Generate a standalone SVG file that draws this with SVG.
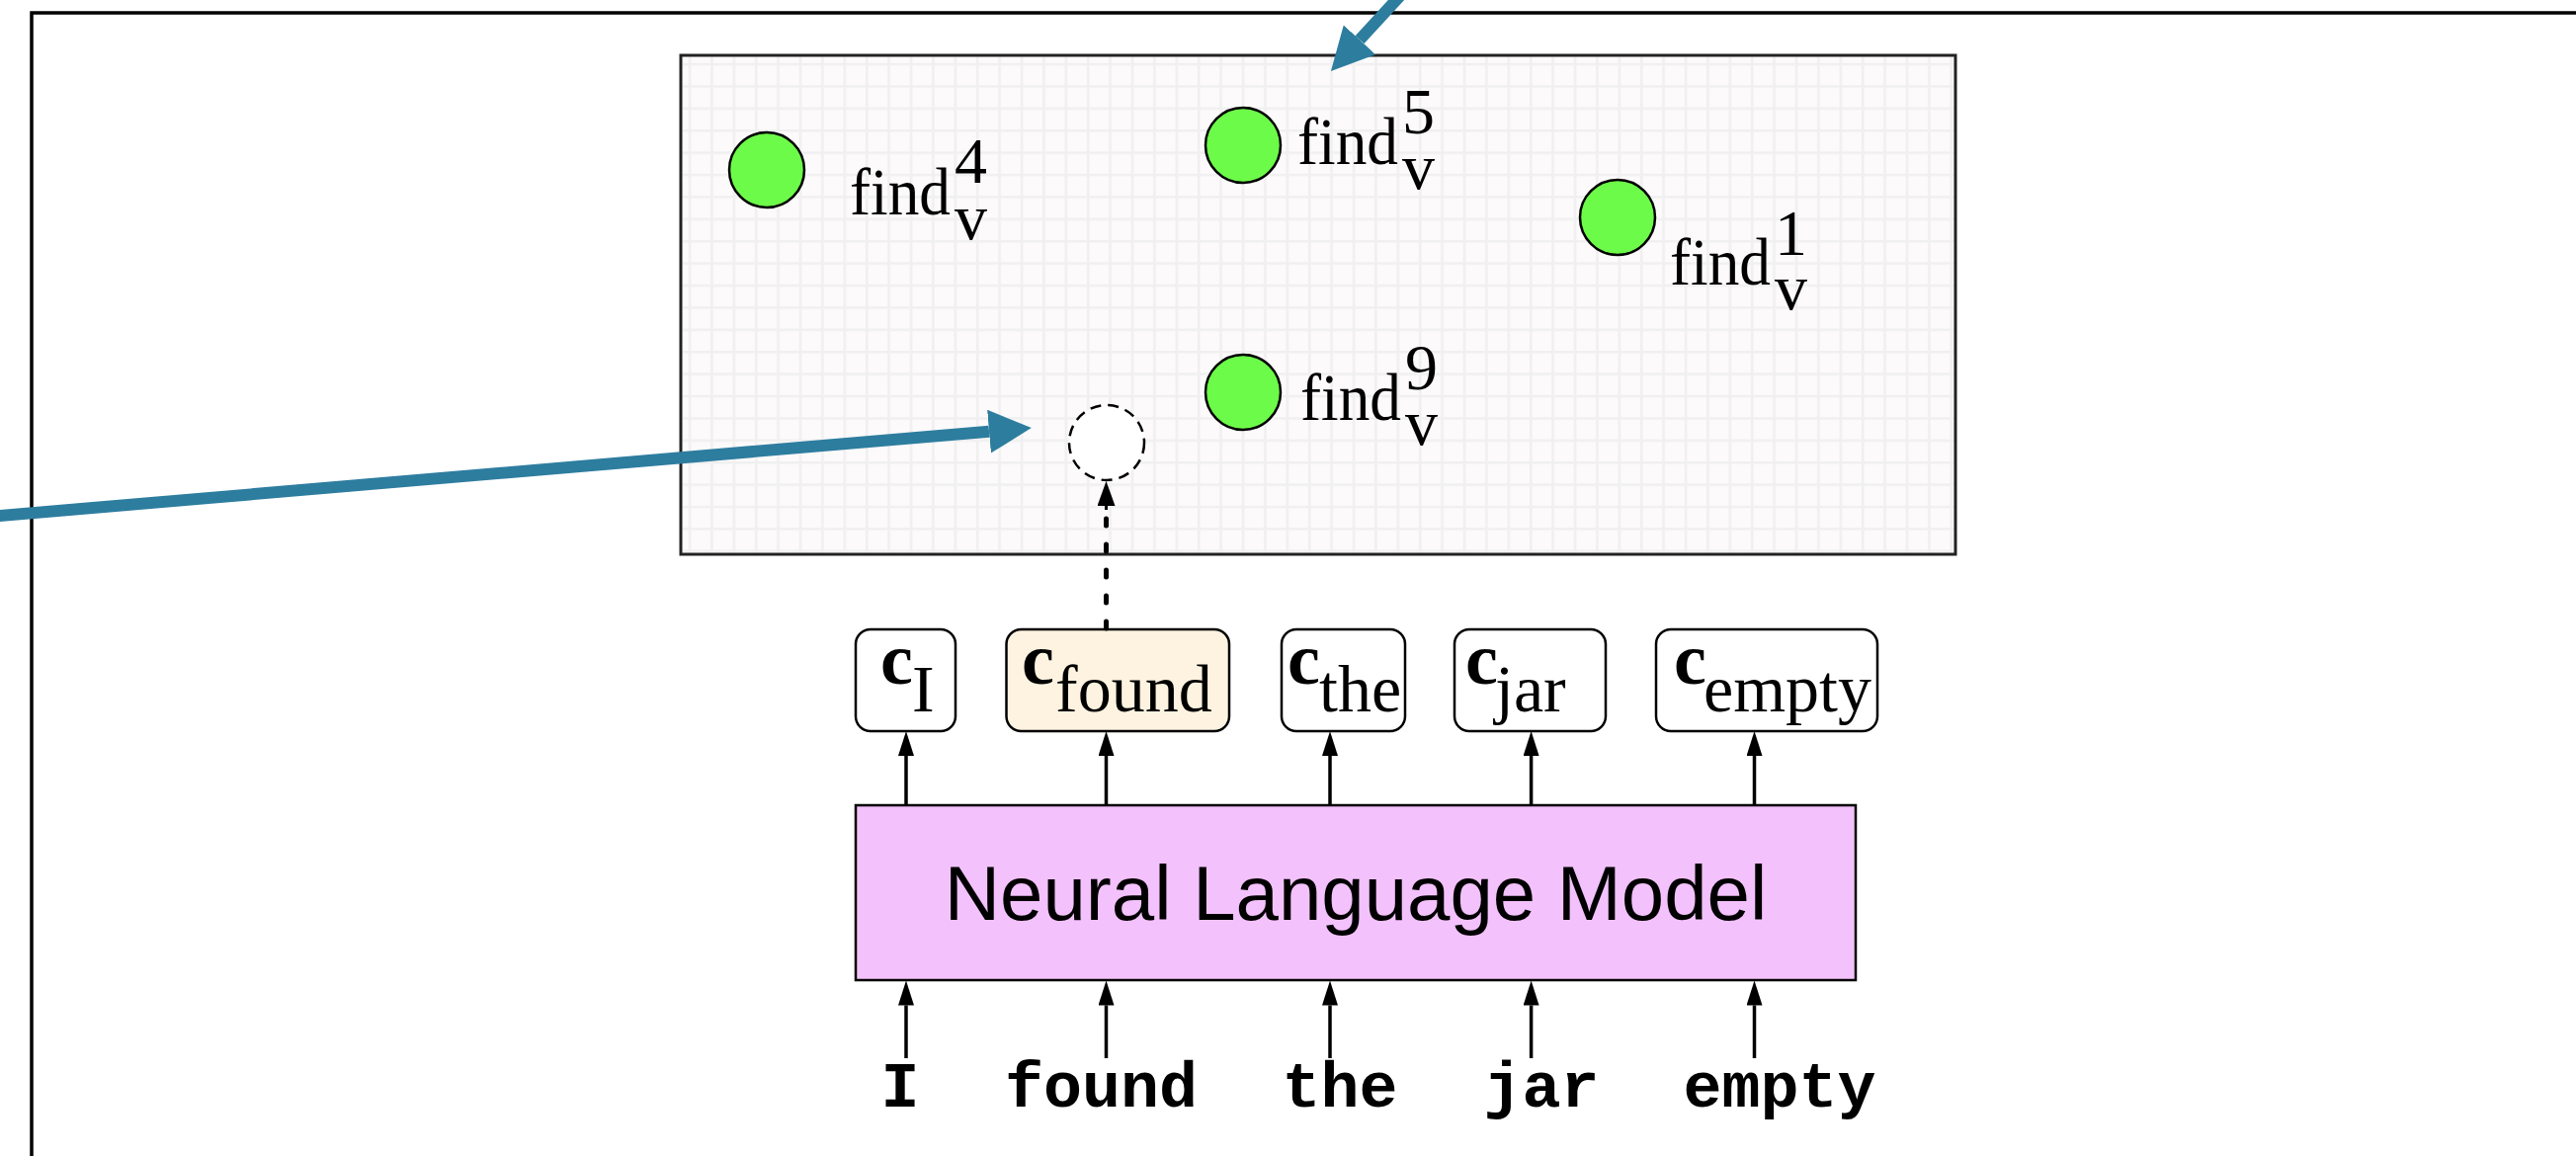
<svg xmlns="http://www.w3.org/2000/svg" width="2607" height="1170" viewBox="0 0 2607 1170">
<style>
.frame{fill:none;stroke:#000;stroke-width:3.5}
.panel{fill:url(#grid);stroke:#222;stroke-width:3}
.pt{fill:#6dfb49;stroke:#000;stroke-width:2.5}
.ghost{fill:#fff;stroke:#000;stroke-width:2.5;stroke-dasharray:11 7}
.fl{font-family:"Liberation Serif","Times New Roman",serif;font-size:68px;fill:#000}
.sc{font-size:66px}
.cbox{fill:#fff;stroke:#000;stroke-width:2.5}
.cf{fill:#fdf3e0}
.cc{font-family:"Liberation Serif","Times New Roman",serif;font-size:68px;fill:#000}
.cb{font-weight:bold;font-size:74px}
.nlm{fill:#f3c1fb;stroke:#000;stroke-width:2.5}
.nlmt{font-family:"Liberation Sans",Arial,sans-serif;font-size:78px;fill:#000}
.word{font-family:"Liberation Mono","Courier New",monospace;font-weight:bold;font-size:65px;fill:#000}
.blue{stroke:#2d7d9f;stroke-width:12;fill:none}
.arr{stroke:#000;stroke-width:3.5;fill:none}
.dot{stroke:#000;stroke-width:5;fill:none;stroke-dasharray:7 19;stroke-linecap:round}
</style>
<defs>
<pattern id="grid" patternUnits="userSpaceOnUse" x="689" y="56" width="22.4" height="22.4">
<rect width="22.4" height="22.4" fill="#fcfafa"/>
<path d="M9,0V22.4M0,9H22.4" stroke="#f0f0f0" stroke-width="2.5"/>
</pattern>
<marker id="bh" markerUnits="userSpaceOnUse" viewBox="0 0 43 44" refX="0" refY="22" markerWidth="43" markerHeight="44" orient="auto">
<path d="M0,0L43,22L0,44z" fill="#2d7d9f"/>
</marker>
<marker id="ah" markerUnits="userSpaceOnUse" viewBox="0 0 25 16" refX="0" refY="8" markerWidth="25" markerHeight="16" orient="auto">
<path d="M0,0L25,8L0,16z" fill="#000"/>
</marker>
<marker id="dh" markerUnits="userSpaceOnUse" viewBox="0 0 25 18" refX="0" refY="9" markerWidth="25" markerHeight="18" orient="auto">
<path d="M0,0L25,9L0,18z" fill="#000"/>
</marker>
</defs>
<rect class="frame" x="32" y="13" width="2600" height="1200"/>
<g id="space">
<rect class="panel" x="689" y="56" width="1290" height="505"/>
</g>
<g id="find4">
<circle class="pt" cx="776" cy="172" r="38"/>
<text class="fl" x="860" y="217"><tspan textLength="102" lengthAdjust="spacingAndGlyphs">find</tspan><tspan class="sc" x="966" y="185">4</tspan><tspan class="sc" x="966" y="242">v</tspan></text>
</g>
<g id="find5">
<circle class="pt" cx="1258" cy="147" r="38"/>
<text class="fl" x="1313" y="166"><tspan textLength="102" lengthAdjust="spacingAndGlyphs">find</tspan><tspan class="sc" x="1419" y="135">5</tspan><tspan class="sc" x="1419" y="191">v</tspan></text>
</g>
<g id="find1">
<circle class="pt" cx="1637" cy="220" r="38"/>
<text class="fl" x="1690" y="288"><tspan textLength="102" lengthAdjust="spacingAndGlyphs">find</tspan><tspan class="sc" x="1796" y="258">1</tspan><tspan class="sc" x="1796" y="313">v</tspan></text>
</g>
<g id="find9">
<circle class="pt" cx="1258" cy="397" r="38"/>
<text class="fl" x="1316" y="425"><tspan textLength="102" lengthAdjust="spacingAndGlyphs">find</tspan><tspan class="sc" x="1422" y="394">9</tspan><tspan class="sc" x="1422" y="450">v</tspan></text>
</g>
<g id="query">
<circle class="ghost" cx="1120" cy="448" r="38"/>
</g>
<g id="c_I">
<rect class="cbox" x="866" y="637" width="101" height="103" rx="15"/>
<text class="cc" x="891" y="692"><tspan class="cb">c</tspan><tspan x="923" y="720">I</tspan></text>
</g>
<g id="c_found">
<rect class="cbox cf" x="1018.5" y="637" width="225.5" height="103" rx="15"/>
<text class="cc" x="1034" y="692"><tspan class="cb">c</tspan><tspan x="1068" y="720">found</tspan></text>
</g>
<g id="c_the">
<rect class="cbox" x="1297" y="637" width="125" height="103" rx="15"/>
<text class="cc" x="1303" y="692"><tspan class="cb">c</tspan><tspan x="1335" y="720">the</tspan></text>
</g>
<g id="c_jar">
<rect class="cbox" x="1472" y="637" width="153" height="103" rx="15"/>
<text class="cc" x="1483" y="692"><tspan class="cb">c</tspan><tspan x="1513" y="720">jar</tspan></text>
</g>
<g id="c_empty">
<rect class="cbox" x="1676" y="637" width="224" height="103" rx="15"/>
<text class="cc" x="1694" y="692"><tspan class="cb">c</tspan><tspan x="1724" y="720">empty</tspan></text>
</g>
<g id="nlm">
<rect class="nlm" x="866" y="815" width="1012" height="177"/>
<text class="nlmt" x="1372" y="931" text-anchor="middle">Neural Language Model</text>
</g>
<g id="words">
<text class="word" x="911" y="1120" text-anchor="middle">I</text>
<text class="word" x="1114.5" y="1120" text-anchor="middle">found</text>
<text class="word" x="1356" y="1120" text-anchor="middle">the</text>
<text class="word" x="1560" y="1120" text-anchor="middle">jar</text>
<text class="word" x="1801" y="1120" text-anchor="middle">empty</text>
</g>
<g id="connectors">
<path class="blue" d="M-5,522.4L1001,436.7" marker-end="url(#bh)"/>
<path class="blue" d="M1420,-7.6L1376,40.3" marker-end="url(#bh)"/>
<path class="dot" d="M1119.5,636V515"/>
<path d="M1119.5,516V512" stroke="#000" stroke-width="3" marker-end="url(#dh)"/>
<path class="arr" d="M917,815V765" marker-end="url(#ah)"/>
<path class="arr" d="M1119.5,815V765" marker-end="url(#ah)"/>
<path class="arr" d="M1346,815V765" marker-end="url(#ah)"/>
<path class="arr" d="M1549.6,815V765" marker-end="url(#ah)"/>
<path class="arr" d="M1775.5,815V765" marker-end="url(#ah)"/>
<path class="arr" d="M917,1071V1017.5" marker-end="url(#ah)"/>
<path class="arr" d="M1119.5,1071V1017.5" marker-end="url(#ah)"/>
<path class="arr" d="M1346,1071V1017.5" marker-end="url(#ah)"/>
<path class="arr" d="M1549.6,1071V1017.5" marker-end="url(#ah)"/>
<path class="arr" d="M1775.5,1071V1017.5" marker-end="url(#ah)"/>
</g>
</svg>
